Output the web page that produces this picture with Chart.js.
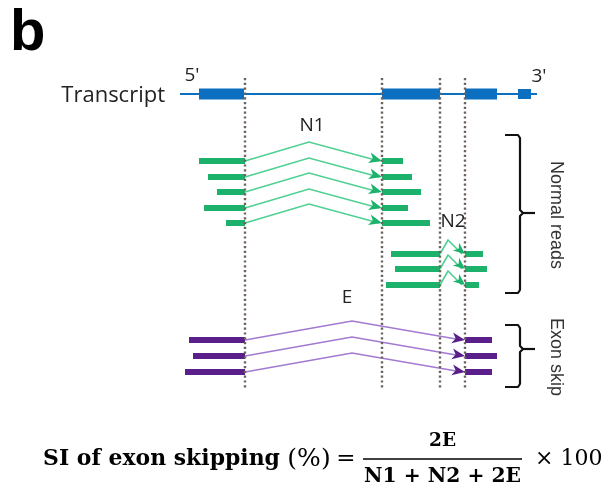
<!DOCTYPE html>
<html>
<head>
<meta charset="utf-8">
<script src="https://cdn.jsdelivr.net/npm/chart.js@4"></script>
<style>
  html, body { margin: 0; padding: 0; background: #fff; }
  #wrap { width: 605px; height: 487px; position: relative; }
</style>
</head>
<body>
<div id="wrap"><canvas id="diagram"></canvas></div>
<script>
// positions along the transcript (x) and read rows (y), in diagram units
const transcriptSpan = [180, 537];
const transcriptY = 94;
const exons = [[199, 244], [382, 440], [465, 497], [518, 531]];
const junctions = [245, 382, 440, 465];
const junctionRange = [78, 388];

// N1 reads: exon1 -> exon2
const n1Rows = [161, 177, 192, 208, 223];
const n1Start = [199, 208, 217, 204, 226];
const n1End = [403, 412, 421, 408, 430];
const n1Peak = 309, n1Rise = 19;

// N2 reads: exon2 -> exon3
const n2Rows = [254, 269, 285];
const n2Start = [391, 395, 386];
const n2End = [483, 487, 479];
const n2Peak = 448, n2Rise = 14;

// E reads: exon1 -> exon3 (skipping exon2)
const eRows = [340, 356, 372];
const eStart = [189, 193, 185];
const eEnd = [492, 497, 492];
const ePeak = 352, eRise = 19;

const BLUE = '#0d6fc0';
const GREEN = '#1db26c', GREEN_ARC = '#4fd092';
const PURPLE = '#5a1f8a', PURPLE_ARC = '#a27ad0';
const DOT = '#6e625c';

const datasets = [];
function seg(points, color, width, extra) {
  datasets.push(Object.assign({
    data: points, showLine: true, borderColor: color, backgroundColor: color,
    borderWidth: width, pointRadius: 0, borderCapStyle: 'butt', tension: 0
  }, extra || {}));
}

// dotted junction lines
junctions.forEach(x => seg([{x, y: junctionRange[0]}, {x, y: junctionRange[1]}], DOT, 2.4, {borderDash: [2.2, 2.6]}));

// transcript
seg([{x: transcriptSpan[0], y: transcriptY}, {x: transcriptSpan[1], y: transcriptY}], BLUE, 2);
exons.forEach(([a, b], i) => seg([{x: a, y: transcriptY}, {x: b, y: transcriptY}], BLUE, i === 3 ? 10 : 11));

const arrows = [];
function reads(rows, starts, ends, j1, j2, peak, rise, barColor, arcColor, size) {
  rows.forEach((y, i) => {
    seg([{x: starts[i], y}, {x: j1, y}], barColor, 6);
    seg([{x: j2, y}, {x: ends[i], y}], barColor, 6);
    seg([{x: j1, y}, {x: peak, y: y - rise}, {x: j2 - 3, y}], arcColor, 1.6);
    arrows.push({from: {x: peak, y: y - rise}, to: {x: j2, y}, color: barColor, size});
  });
}
reads(n1Rows, n1Start, n1End, junctions[0], junctions[1], n1Peak, n1Rise, GREEN, GREEN_ARC, 1);
reads(n2Rows, n2Start, n2End, junctions[2], junctions[3], n2Peak, n2Rise, GREEN, GREEN_ARC, 0.9);
reads(eRows, eStart, eEnd, junctions[0], junctions[3], ePeak, eRise, PURPLE, PURPLE_ARC, 1);

// brackets
const brackets = [
  {top: 135, bottom: 293, tip: 213},
  {top: 325, bottom: 387, tip: 349}
];
brackets.forEach(b => {
  seg([{x: 505, y: b.top}, {x: 518, y: b.top}, {x: 520, y: b.top + 3}, {x: 520, y: b.tip - 3},
       {x: 523, y: b.tip}, {x: 520, y: b.tip + 3}, {x: 520, y: b.bottom - 3},
       {x: 518, y: b.bottom}, {x: 505, y: b.bottom}], '#111', 2.2, {borderJoinStyle: 'round'});
  seg([{x: 522, y: b.tip}, {x: 535, y: b.tip}], '#111', 2.2);
});

const arrowPlugin = {
  id: 'arrowheads',
  afterDatasetsDraw(chart) {
    const {ctx, scales: {x, y}} = chart;
    arrows.forEach(a => {
      const x1 = x.getPixelForValue(a.from.x), y1 = y.getPixelForValue(a.from.y);
      const x2 = x.getPixelForValue(a.to.x), y2 = y.getPixelForValue(a.to.y);
      const ang = Math.atan2(y2 - y1, x2 - x1);
      const L = 13 * a.size, W = 5.5 * a.size;
      ctx.save();
      ctx.translate(x2, y2);
      ctx.rotate(ang);
      ctx.beginPath();
      ctx.moveTo(0, 0);
      ctx.lineTo(-L, -W);
      ctx.lineTo(-L + 3.5, 0);
      ctx.lineTo(-L, W);
      ctx.closePath();
      ctx.fillStyle = a.color;
      ctx.fill();
      ctx.restore();
    });
  }
};

const serif = '"DejaVu Serif", "Liberation Serif", serif';
const textPlugin = {
  id: 'labels',
  afterDraw(chart) {
    const {ctx, scales: {x, y}} = chart;
    const put = (t, px, py, font, color, align, rot) => {
      ctx.save();
      ctx.translate(x.getPixelForValue(px), y.getPixelForValue(py));
      if (rot) ctx.rotate(rot);
      ctx.font = font;
      ctx.fillStyle = color || '#222';
      ctx.textAlign = align || 'center';
      ctx.textBaseline = 'middle';
      ctx.fillText(t, 0, 0);
      ctx.restore();
    };
    // text sized to span [left, right]
    const fit = (t, left, right, py, weight, maxSize) => {
      ctx.save();
      ctx.font = weight + ' 20px ' + serif;
      const w = ctx.measureText(t).width;
      const size = Math.min(maxSize || 30, 20 * (x.getPixelForValue(right) - x.getPixelForValue(left)) / w);
      ctx.font = weight + ' ' + size.toFixed(2) + 'px ' + serif;
      ctx.fillStyle = '#000';
      ctx.textAlign = 'center';
      ctx.textBaseline = 'middle';
      ctx.fillText(t, (x.getPixelForValue(left) + x.getPixelForValue(right)) / 2, y.getPixelForValue(py));
      ctx.restore();
    };
    const sans = '"Open Sans", "Noto Sans", sans-serif';
    put('b', 10, 34, 'bold 58px "Liberation Sans", Arial', '#000', 'left');
    put('Transcript', 165, 96, '22px ' + sans, '#222', 'right');
    put("5'", 192, 76, '19px ' + sans, '#222', 'center');
    put("3'", 539, 77, '19px ' + sans, '#222', 'center');
    put('N1', 312, 126, '19px ' + sans, '#222');
    put('N2', 453, 222, '19px ' + sans, '#222');
    put('E', 347, 298, '19px ' + sans, '#222');
    put('Normal reads', 556, 215, '18px "Liberation Sans", Arial, sans-serif', '#333', 'center', Math.PI / 2);
    put('Exon skip', 556, 357, '18px "Liberation Sans", Arial, sans-serif', '#333', 'center', Math.PI / 2);

    // formula
    fit('SI of exon skipping', 43, 280, 459, 'bold');
    put('(%)', 309, 459, '25px ' + serif, '#000', 'center');
    put('=', 346, 459, '23px ' + serif, '#000', 'center');
    fit('2E', 429, 456, 441, 'bold');
    fit('N1 + N2 + 2E', 364, 521, 477, 'bold');
    put('× 100', 535, 459, '22px ' + serif, '#000', 'left');
    ctx.save();
    ctx.strokeStyle = '#000';
    ctx.lineWidth = 1.5;
    ctx.beginPath();
    ctx.moveTo(x.getPixelForValue(363), y.getPixelForValue(459));
    ctx.lineTo(x.getPixelForValue(522), y.getPixelForValue(459));
    ctx.stroke();
    ctx.restore();
  }
};

new Chart(document.getElementById('diagram'), {
  type: 'scatter',
  data: { datasets },
  options: {
    responsive: true,
    maintainAspectRatio: false,
    animation: false,
    layout: { padding: 0 },
    plugins: { legend: { display: false }, tooltip: { enabled: false } },
    scales: {
      x: { type: 'linear', min: 0, max: 605, display: false },
      y: { type: 'linear', min: 0, max: 487, reverse: true, display: false }
    }
  },
  plugins: [arrowPlugin, textPlugin]
});
</script>
</body>
</html>
